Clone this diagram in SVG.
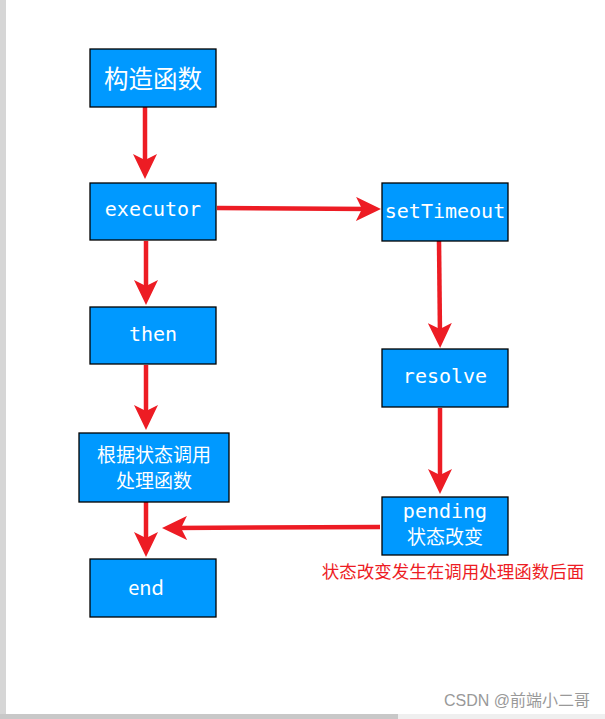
<svg xmlns="http://www.w3.org/2000/svg" width="605" height="719" viewBox="0 0 605 719">
<style>
.box{fill:#0099FF;stroke:#000;stroke-width:1.3}
.t{fill:#fff;font-family:"DejaVu Sans Mono","Liberation Mono",monospace;font-size:20px;text-anchor:middle}
.c{fill:#fff;font-family:"Noto Sans CJK SC",sans-serif;text-anchor:middle}
.arr{stroke:#ED1C24;stroke-width:4.5;fill:none;marker-end:url(#ah)}
</style>
<defs>
<marker id="ah" markerUnits="userSpaceOnUse" viewBox="-25 -12 25 24" refX="-12" refY="0" markerWidth="25" markerHeight="24" orient="auto">
<path d="M0,0 L-25,-12 L-19,0 L-25,12 Z" fill="#ED1C24"/>
</marker>
</defs>
<rect x="0" y="0" width="605" height="719" fill="#fff"/>
<rect x="0" y="0" width="6" height="719" fill="#d6d6d6"/>
<rect x="0" y="714" width="398" height="5" fill="#c8c8c8"/>
<rect x="398" y="714" width="207" height="5" fill="#efefef"/>
<g id="connectors">
<line class="arr" x1="145" y1="107" x2="145" y2="167"/>
<line class="arr" x1="217" y1="208" x2="369" y2="209"/>
<line class="arr" x1="146" y1="241" x2="146" y2="293"/>
<line class="arr" x1="146" y1="365" x2="146" y2="418"/>
<line class="arr" x1="439" y1="241" x2="440" y2="336"/>
<line class="arr" x1="440" y1="408" x2="440" y2="482"/>
<line class="arr" x1="146" y1="502" x2="146" y2="545"/>
<line class="arr" x1="380" y1="527" x2="174" y2="528"/>
</g>
<g id="n1"><rect class="box" x="90" y="49" width="126" height="58"/><text class="c" x="153" y="88" font-size="24.5">构造函数</text></g>
<g id="n2"><rect class="box" x="90" y="183" width="126" height="57"/><text class="t" x="153" y="216">executor</text></g>
<g id="n3"><rect class="box" x="382" y="183" width="126" height="58"/><text class="t" x="445" y="218" font-size="20.5">setTimeout</text></g>
<g id="n4"><rect class="box" x="90" y="307" width="126" height="57"/><text class="t" x="153" y="341">then</text></g>
<g id="n5"><rect class="box" x="382" y="349" width="126" height="58"/><text class="t" x="445" y="383">resolve</text></g>
<g id="n6"><rect class="box" x="79" y="433" width="150" height="69"/><text class="c" x="154" y="462" font-size="19">根据状态调用</text><text class="c" x="154" y="488" font-size="19">处理函数</text></g>
<g id="n7"><rect class="box" x="382" y="497" width="126" height="58"/><text class="t" x="445" y="518" font-size="16">pending</text><text class="c" x="445" y="544" font-size="19">状态改变</text></g>
<g id="n8"><rect class="box" x="90" y="559" width="126" height="58"/><text class="c" x="146" y="595" font-size="20" font-family="Liberation Sans, sans-serif">end</text></g>
<text x="453" y="578" font-family="Noto Sans CJK SC, sans-serif" font-size="17.5" fill="#ED1C24" text-anchor="middle">状态改变发生在调用处理函数后面</text>
<text x="590" y="706" font-family="Liberation Sans, Noto Sans CJK SC, sans-serif" font-size="16" fill="#999" text-anchor="end">CSDN @前端小二哥</text>
</svg>
